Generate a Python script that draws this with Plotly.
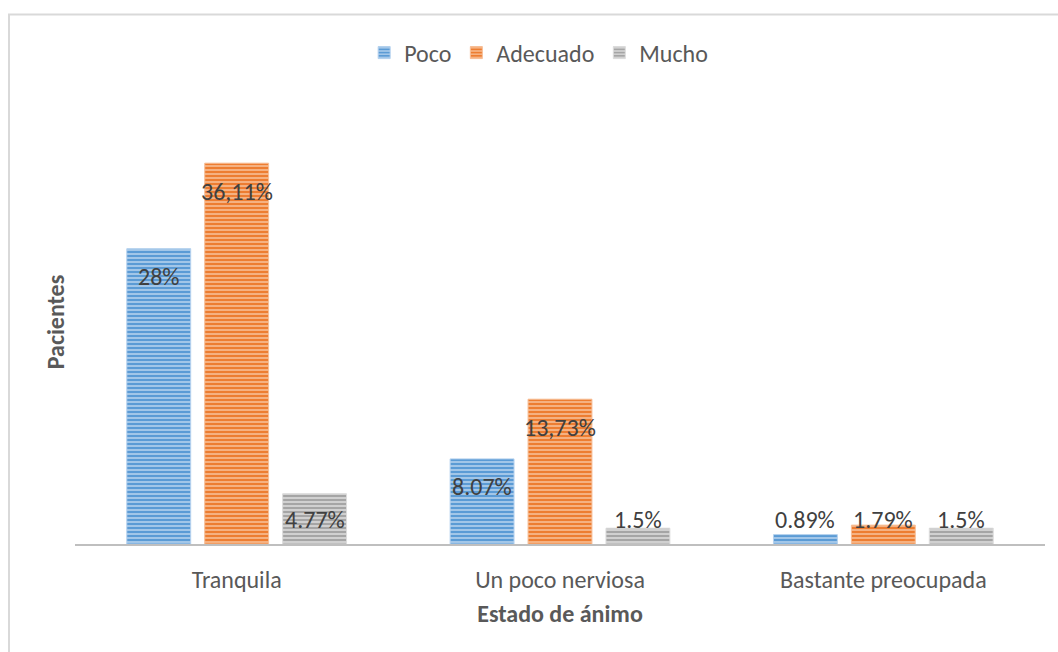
import plotly.graph_objects as go

# Mood categories and the share of patients in each response group
categorias = ["Tranquila", "Un poco nerviosa", "Bastante preocupada"]
series = ["Poco", "Adecuado", "Mucho"]
poco = [28, 8.07, 0.89]
adecuado = [36.11, 13.73, 1.79]
mucho = [4.77, 1.5, 1.5]
etiquetas_poco = ["28%", "8.07%", "0.89%"]
etiquetas_adecuado = ["36,11%", "13,73%", "1.79%"]
etiquetas_mucho = ["4.77%", "1.5%", "1.5%"]

valores = [poco, adecuado, mucho]
etiquetas = [etiquetas_poco, etiquetas_adecuado, etiquetas_mucho]
colores = ["#5B9BD5", "#ED7D31", "#A5A5A5"]
rayas = ["#B4D1EE", "#F7BE96", "#DCDCDC"]

FUENTE = "Carlito, Lato, sans-serif"
BARGAP = 0.277
BARGROUPGAP = 0.18
Y_MAX = 42.1
ALTO_PLOT = 444

fig = go.Figure()
for nombre, vals, color, raya in zip(series, valores, colores, rayas):
    fig.add_trace(go.Bar(
        name=nombre,
        x=categorias,
        y=vals,
        marker=dict(
            color=color,
            line=dict(color=raya, width=1),
            pattern=dict(shape="-", fillmode="replace", bgcolor=color,
                         fgcolor=raya, size=4, solidity=0.4),
        ),
        hoverinfo="x+y+name",
    ))

# Data labels: near the top inside each bar, lifted above the axis for short bars
slot = (1 - BARGAP) / len(series)
for i, (vals, textos) in enumerate(zip(valores, etiquetas)):
    desplaz = (i - (len(series) - 1) / 2) * slot
    for j, (v, t) in enumerate(zip(vals, textos)):
        alto_px = v / Y_MAX * ALTO_PLOT
        if alto_px > 53:
            y, yshift = v, -28
        else:
            y, yshift = 0, 25
        fig.add_annotation(
            x=j + desplaz, y=y, xref="x", yref="y", text=t,
            showarrow=False, yshift=yshift, yanchor="middle",
            font=dict(family=FUENTE, size=24, color="#404040"),
        )

# Chart frame
fig.add_shape(type="rect", xref="paper", yref="paper",
              x0=(9 - 75) / 970, x1=1.2, y0=-0.5, y1=(544 - 14.5) / ALTO_PLOT,
              line=dict(color="#D9D9D9", width=2), fillcolor="rgba(0,0,0,0)",
              layer="below")

fig.update_layout(
    width=1058, height=652,
    margin=dict(l=75, r=13, t=100, b=108),
    paper_bgcolor="white", plot_bgcolor="white",
    barmode="group", bargap=BARGAP, bargroupgap=BARGROUPGAP,
    font=dict(family=FUENTE, size=24, color="#595959"),
    legend=dict(orientation="h", x=0.478, xanchor="center",
                y=(544 - 53) / ALTO_PLOT, yanchor="middle",
                font=dict(family=FUENTE, size=24, color="#595959"),
                itemwidth=30),
    xaxis=dict(
        showline=True, linecolor="#BFBFBF", linewidth=2,
        ticks="", showgrid=False, ticklabelstandoff=13,
        tickfont=dict(family=FUENTE, size=24, color="#595959"),
        title=dict(text="<b>Estado de ánimo</b>", standoff=12,
                   font=dict(family=FUENTE, size=24, color="#595959")),
    ),
    yaxis=dict(
        range=[0, Y_MAX], showgrid=False, zeroline=False,
        showticklabels=False, ticks="", showline=False,
        title=dict(text="<b>Pacientes</b>", standoff=2,
                   font=dict(family=FUENTE, size=24, color="#595959")),
    ),
)

fig.write_html("out.html")
